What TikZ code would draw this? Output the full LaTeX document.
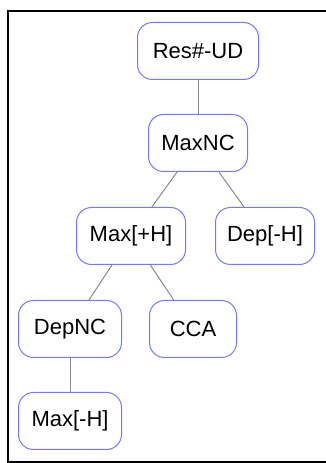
\documentclass[tikz,border=0pt]{standalone}
\usepackage{fontspec}
\setmainfont{Liberation Sans}
\usepackage{tikz}
\usetikzlibrary{positioning}
\definecolor{nodeBlue}{HTML}{7878FF}
\definecolor{edgeGrey}{HTML}{8A8A8A}
\tikzset{
  cat/.style  = {draw=nodeBlue, line width=1pt, fill=white, rounded corners=15pt,
                 minimum height=57pt, inner sep=0pt, align=center,
                 font=\fontsize{22}{24}\selectfont},
  link/.style = {draw=edgeGrey, line width=1pt},
  frame/.style= {draw=black, line width=2pt}
}
\begin{document}
\begin{tikzpicture}[x=1pt, y=1pt]
  \useasboundingbox (0,0) rectangle (326,463);
  \clip (0,0) rectangle (326,463);
  \draw[frame] (340,452) -- (8,452) -- (8,1) -- (340,1);
  % nodes
  \node[cat, minimum width=121pt] (resud) at (198,412) {Res\#-UD};
  \node[cat, minimum width=99pt]  (maxnc) at (198,320) {MaxNC};
  \node[cat, minimum width=109pt] (maxph) at (131,227) {Max[+H]};
  \node[cat, minimum width=99pt]  (depmh) at (265,227) {Dep[-H]};
  \node[cat, minimum width=103pt] (depnc) at (70,134)  {DepNC};
  \node[cat, minimum width=87pt]  (cca)   at (193,134) {CCA};
  \node[cat, minimum width=103pt] (maxmh) at (70,42)   {Max[-H]};
  % edges
  \draw[link] (resud) -- (maxnc);
  \draw[link] (maxnc) -- (maxph);
  \draw[link] (maxnc) -- (depmh);
  \draw[link] (maxph) -- (depnc);
  \draw[link] (maxph) -- (cca);
  \draw[link] (depnc) -- (maxmh);
\end{tikzpicture}
\end{document}
